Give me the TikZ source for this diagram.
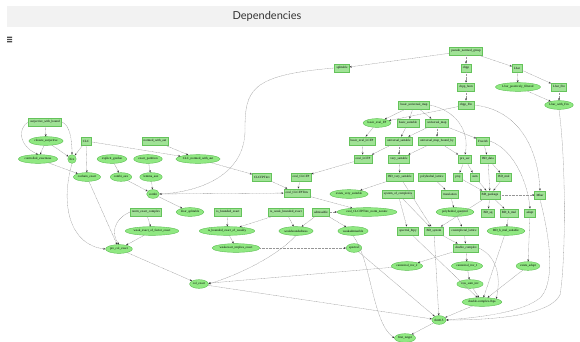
\documentclass[tikz,border=0pt]{standalone}
\usepackage{fontspec}
\setmainfont{Liberation Serif}
\newfontfamily\titlefont{Lato}
\usetikzlibrary{shapes.geometric,arrows.meta}
\definecolor{rfill}{RGB}{160,226,150}
\definecolor{rdraw}{RGB}{100,195,90}
\definecolor{efill}{RGB}{144,232,130}
\definecolor{edraw}{RGB}{90,190,80}
\definecolor{edgec}{RGB}{150,150,150}
\definecolor{titlebg}{RGB}{242,242,242}
\begin{document}
\begin{tikzpicture}[x=1pt,y=-1pt,
 rbox/.style={rectangle,draw=rdraw,fill=rfill,line width=0.6pt,inner xsep=1.8pt,inner ysep=0pt,minimum height=8.3pt,font=\fontsize{3.2}{3.6}\selectfont},
 ebox/.style={ellipse,draw=edraw,fill=efill,line width=0.4pt,inner xsep=0.5pt,inner ysep=0pt,minimum height=8.7pt,font=\fontsize{3.2}{3.6}\selectfont},
 dep/.style={draw=edgec,line width=0.32pt,dash pattern=on 0.9pt off 0.5pt,-{Stealth[length=2.2pt,width=1.8pt,color=black!80]}}]
\useasboundingbox (0,0) rectangle (580,341);
\fill[white] (0,0) rectangle (580,341);
% title bar
\fill[titlebg] (7,6) rectangle (580,27);
\node[font=\titlefont\fontsize{11}{13}\selectfont,text=black!80] (title) at (267,16.5) {Dependencies};
\fill[black!70] (7,36.5) rectangle (12,37.8) (7,38.8) rectangle (12,40.1) (7,41.1) rectangle (12,42.4);
% nodes
\node[rbox] (pnG) at (466,51) {pseudo\_normed\_group};
\node[rbox] (splitable) at (342,68) {splitable};
\node[rbox] (chpp) at (466,68) {chpp};
\node[rbox] (Lbar) at (517,68) {Lbar};
\node[rbox] (chpphom) at (466,87) {chpp\_hom};
\node[ebox] (Lpos) at (518,87) {Lbar\_positively\_filtered};
\node[rbox] (LbarFin) at (559,87) {Lbar\_Fin};
\node[rbox] (chppFin) at (466,105) {chpp\_Fin};
\node[ebox] (LbarwFin) at (559,105) {Lbar\_with\_Fin};
\node[rbox] (bum) at (414,105) {basic\_universal\_map};
\node[ebox] (befp) at (377,123) {basic\_eval\_FP};
\node[rbox] (bsuit) at (408,123) {basic\_suitable};
\node[rbox] (um) at (437,123) {universal\_map};
\node[rbox] (belcfp) at (362,141) {basic\_eval\_LCFP};
\node[rbox] (usuit) at (399,141) {universal\_suitable};
\node[rbox] (umbb) at (437,141) {universal\_map\_bound\_by};
\node[rbox] (freeab) at (483,141) {FreeAb};
\node[rbox] (elcfp) at (363,159) {eval\_LCFP};
\node[rbox] (vsuit) at (399,159) {very\_suitable};
\node[rbox] (presec) at (465,159) {pre\_sec};
\node[rbox] (bddata) at (488,159) {BD\_data};
\node[rbox] (surjwb) at (45,122) {surjective\_with\_bound};
\node[ebox] (closs) at (46,141) {closure\_surjective};
\node[rbox] (CLC) at (86,141) {CLC};
\node[rbox] (nwa) at (155,141) {normed\_with\_aut};
\node[ebox] (ctrl) at (38,159) {controlled\_exactness};
\node[ebox] (lfex) at (72,159) {lfex};
\node[ebox] (expg) at (112,159) {explicit\_gordan};
\node[ebox] (expart) at (148,159) {exact\_partition};
\node[ebox] (cnwa) at (198,159) {CLC\_normed\_with\_aut};
\node[ebox] (coch) at (87,177) {cochain\_exact};
\node[ebox] (combiaux) at (121,177) {combi\_aux};
\node[ebox] (lemmaaux) at (151,177) {lemma\_aux};
\node[rbox] (clcfpt) at (262,177) {CLCFPTinv};
\node[rbox] (eclcfp) at (301,177) {eval\_CLCFP};
\node[rbox] (bdvs) at (400,177) {BD\_very\_suitable};
\node[rbox] (polylat) at (432,177) {polyhedral\_lattice};
\node[rbox] (proj) at (458,177) {proj};
\node[rbox] (sum) at (475,177) {sum};
\node[rbox] (bdmul) at (504,177) {BD\_mul};
\node[ebox] (combi) at (153,194) {combi};
\node[rbox] (eclcfpt) at (297,193) {eval\_CLCFPTinv};
\node[ebox] (evs) at (349,194) {exists\_very\_suitable};
\node[rbox] (soc) at (398,194) {system\_of\_complexes};
\node[rbox] (transl) at (450,194) {translation};
\node[rbox] (bdpkg) at (490,195) {BD\_package};
\node[rbox] (mbar) at (540,195) {Mbar};
\node[rbox] (nec) at (146,212) {norm\_exact\_complex};
\node[ebox] (lbsplit) at (190,212) {Lbar\_splitable};
\node[rbox] (ibe) at (228,212) {is\_bounded\_exact};
\node[rbox] (iwbe) at (286,212) {is\_weak\_bounded\_exact};
\node[rbox] (adm) at (321,212) {admissible};
\node[ebox] (ecnn) at (367,212) {eval\_CLCFPTinv\_norm\_noninc};
\node[ebox] (pquot) at (455,212) {polyhedral\_quotient};
\node[rbox] (bdsq) at (488,213) {BD\_sq};
\node[rbox] (bdhmul) at (509,213) {BD\_h\_mul};
\node[rbox] (adapt) at (530,213) {adapt};
\node[ebox] (wefe) at (152,231) {weak\_exact\_of\_factor\_exact};
\node[ebox] (ibeow) at (227,231) {is\_bounded\_exact\_of\_weakly};
\node[ebox] (wbd) at (296,231) {weakboundedness};
\node[ebox] (wadm) at (353,231) {weakadmissible};
\node[rbox] (sphtpy) at (408,231) {spectral\_htpy};
\node[rbox] (bdsys) at (434,231) {BD\_system};
\node[rbox] (cosl) at (464,231) {cosimplicial\_lattice};
\node[ebox] (bdhms) at (506,231) {BD\_h\_mul\_suitable};
\node[ebox] (pce) at (119,249) {pre\_col\_exact};
\node[ebox] (wie) at (236,248) {weakexact\_implies\_exact};
\node[ebox] (spectral) at (354,248) {spectral};
\node[rbox] (dcx) at (466,248) {double\_complex};
\node[ebox] (ci2) at (407,266) {canonical\_inv\_2};
\node[ebox] (ci1) at (467,266) {canonical\_inv\_1};
\node[ebox] (exad) at (528,266) {exists\_adapt};
\node[ebox] (colex) at (199,284) {col\_exact};
\node[ebox] (rsi) at (470,284) {row\_sum\_inv};
\node[ebox] (dcl) at (482,302) {double-complex-lbps};
\node[ebox] (thm) at (439,320) {thm9.5};
\node[ebox] (ft) at (405,338) {first\_target};
% edges
\draw[dep] (pnG) -- (splitable);
\draw[dep] (pnG) -- (chpp);
\draw[dep] (pnG) -- (Lbar);
\draw[dep] (chpp) -- (chpphom);
\draw[dep] (chpphom) -- (chppFin);
\draw[dep] (Lbar) -- (Lpos);
\draw[dep] (Lbar) -- (LbarFin);
\draw[dep] (Lpos) -- (LbarwFin);
\draw[dep] (LbarFin) -- (LbarwFin);
\draw[dep] (LbarwFin.south) .. controls (566,160) and (566,260) .. (560,295) .. controls (548,318) and (480,320) .. (thm.east);
\draw[dep] (chppFin) -- (befp);
\draw[dep] (chppFin.east) .. controls (520,110) and (538,150) .. (mbar.north);
\draw[dep] (bum) -- (befp);
\draw[dep] (bum) -- (bsuit);
\draw[dep] (bum) -- (um);
\draw[dep] (bum.east) .. controls (455,110) and (470,130) .. (presec.north);
\draw[dep] (befp) -- (belcfp);
\draw[dep] (bsuit) -- (usuit);
\draw[dep] (um) -- (usuit);
\draw[dep] (um) -- (umbb);
\draw[dep] (um) -- (freeab);
\draw[dep] (belcfp) -- (elcfp);
\draw[dep] (usuit) -- (elcfp);
\draw[dep] (usuit) -- (vsuit);
\draw[dep] (umbb) -- (vsuit);
\draw[dep] (umbb) -- (presec);
\draw[dep] (freeab) -- (bddata);
\draw[dep] (freeab.east) .. controls (515,150) and (528,185) .. (adapt.north);
\draw[dep] (presec) -- (proj);
\draw[dep] (presec) -- (sum);
\draw[dep] (bddata) -- (bdmul);
\draw[dep] (bddata) -- (bdpkg);
\draw[dep] (proj) -- (bdpkg);
\draw[dep] (sum) -- (bdpkg);
\draw[dep] (bdmul) -- (bdpkg);
\draw[dep] (bdpkg) -- (bdsq);
\draw[dep] (bdpkg) -- (bdhmul);
\draw[dep] (bdpkg) -- (mbar);
\draw[dep] (bdpkg) -- (bdsys);
\draw[dep] (bdhmul) -- (bdhms);
\draw[dep] (adapt) -- (exad);
\draw[dep] (mbar.south) .. controls (553,250) and (553,285) .. (540,298) .. controls (520,314) and (470,318) .. (thm.east);
\draw[dep] (elcfp) -- (eclcfp);
\draw[dep] (eclcfp) -- (eclcfpt);
\draw[dep] (clcfpt) -- (eclcfpt);
\draw[dep] (cnwa) -- (clcfpt);
\draw[dep] (nwa) -- (cnwa);
\draw[dep] (CLC) -- (cnwa);
\draw[dep] (vsuit) -- (bdvs);
\draw[dep] (bdvs) -- (evs);
\draw[dep] (bdvs) -- (bdsys);
\draw[dep] (polylat) -- (transl);
\draw[dep] (transl) -- (pquot);
\draw[dep] (pquot) -- (cosl);
\draw[dep] (soc) -- (sphtpy);
\draw[dep] (soc) -- (bdsys);
\draw[dep] (eclcfpt) -- (ecnn);
\draw[dep] (adm) -- (ecnn);
\draw[dep] (adm) -- (wadm);
\draw[dep] (adm) -- (wbd);
\draw[dep] (iwbe) -- (wbd);
\draw[dep] (iwbe) -- (ibeow);
\draw[dep] (ibe) -- (ibeow);
\draw[dep] (ibeow) -- (wie);
\draw[dep] (wbd.south) .. controls (275,258) and (235,276) .. (colex.east);
\draw[dep] (surjwb) -- (closs);
\draw[dep] (surjwb.west) .. controls (18,128) and (18,145) .. (ctrl.north);
\draw[dep] (surjwb.east) .. controls (70,125) and (72,140) .. (lfex.north);
\draw[dep] (closs) -- (ctrl);
\draw[dep] (closs) -- (lfex);
\draw[dep] (CLC) -- (lfex);
\draw[dep] (CLC) -- (coch);
\draw[dep] (ctrl) -- (coch);
\draw[dep] (lfex.south) .. controls (60,205) and (70,245) .. (pce.west);
\draw[dep] (expg) -- (combiaux);
\draw[dep] (expart) -- (lemmaaux);
\draw[dep] (combiaux) -- (combi);
\draw[dep] (lemmaaux) -- (combi);
\draw[dep] (combi) -- (lbsplit);
\draw[dep] (combi) -- (eclcfpt);
\draw[dep] (splitable.west) .. controls (250,75) and (245,90) .. (245,130) .. controls (245,175) and (200,192) .. (combi.east);
\draw[dep] (nec) -- (wefe);
\draw[dep] (nec.west) .. controls (112,220) and (112,235) .. (pce.north);
\draw[dep] (wefe) -- (pce);
\draw[dep] (coch) -- (pce);
\draw[dep] (pce) -- (colex);
\draw[dep] (wie) -- (spectral);
\draw[dep] (spectral) -- (thm);
\draw[dep] (colex) -- (thm);
\draw[dep] (ci2) -- (colex);
\draw[dep] (dcx) -- (ci2);
\draw[dep] (dcx) -- (ci1);
\draw[dep] (ci1) -- (rsi);
\draw[dep] (rsi) -- (dcl);
\draw[dep] (dcx.east) .. controls (500,258) and (500,282) .. (dcl.north east);
\draw[dep] (bdsys) -- (dcx);
\draw[dep] (cosl) -- (dcx);
\draw[dep] (bdsys) -- (thm);
\draw[dep] (sphtpy) -- (dcl);
\draw[dep] (bdhms) -- (dcl);
\draw[dep] (exad) -- (dcl);
\draw[dep] (dcl) -- (thm);
\draw[dep] (thm) -- (ft);
\draw[dep] (wadm.south) .. controls (372,262) and (372,322) .. (ft.west);
\end{tikzpicture}
\end{document}
